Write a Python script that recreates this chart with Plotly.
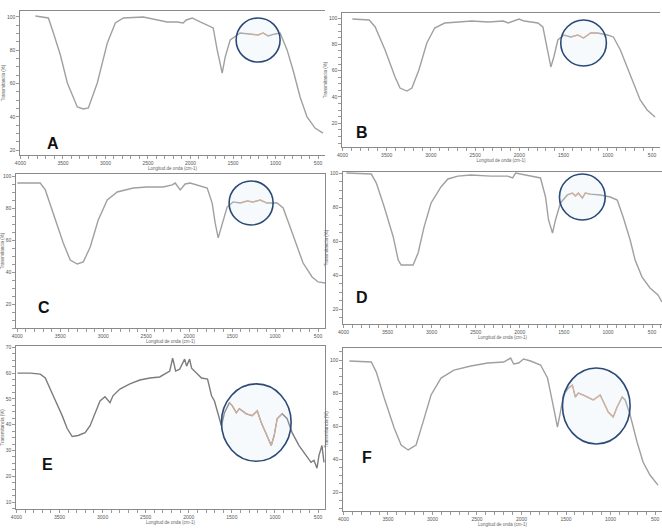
import plotly.graph_objects as go

W, H = 662, 529

# ---------------- data (wavenumber cm-1, transmittance %) ----------------
wn_A = [3824, 3671, 3612, 3530, 3448, 3331, 3260, 3201, 3096, 2978, 2884, 2790, 2555, 2274, 2156, 2086, 2050,
        1980, 1886, 1733, 1686, 1627, 1592, 1533, 1416, 1299, 1205, 1146, 1087, 1005, 946, 864, 794, 711, 629, 535, 441]
T_A = [100.6, 99.4, 90.4, 77.1, 60.3, 45.9, 44.7, 45.3, 60.3, 84.4, 96.4, 99.4, 100, 97, 97, 96.4, 98.2,
       99.4, 97, 93.4, 80.2, 66.3, 75.9, 86.2, 90.4, 89.8, 89.2, 90.4, 88.6, 89.8, 90.4, 80.2, 68.1, 51.9, 39.9, 33.2, 30.2]

wn_B = [3888, 3697, 3630, 3518, 3405, 3349, 3271, 3215, 3136, 3046, 2957, 2844, 2687, 2541, 2351, 2182, 2126, 2070,
        2003, 1947, 1790, 1734, 1700, 1644, 1610, 1565, 1498, 1419, 1341, 1274, 1195, 1116, 1004, 937, 858, 780, 713,
        634, 555, 466]
T_B = [99.2, 98.5, 93.2, 75.7, 55.2, 46.8, 44.5, 46.8, 60.5, 81, 92.4, 96.2, 97, 97.7, 97, 97.7, 96.2, 97.7,
       99.2, 97.7, 96.2, 93.2, 81, 62.8, 70.4, 83.3, 87.1, 85.6, 87.1, 84.8, 88.6, 88.6, 87.1, 85.6, 75.7, 62.8, 50.6,
       37.7, 30.1, 24.8]

wn_C = [4000, 3733, 3674, 3581, 3465, 3384, 3302, 3232, 3151, 3058, 2953, 2837, 2651, 2488, 2302, 2197, 2162, 2104,
        2046, 1988, 1907, 1790, 1732, 1697, 1662, 1616, 1558, 1488, 1407, 1325, 1255, 1174, 1093, 976, 906, 825, 744,
        674, 569, 499, 418]
T_C = [95.6, 95.6, 91.3, 76.9, 58.1, 47.5, 45, 46.3, 55.6, 72.5, 85, 90, 92.5, 93.1, 93.1, 94.4, 95.6, 91.3,
       95, 95.6, 94.4, 92.5, 83.1, 70.6, 61.3, 70.6, 80.6, 83.8, 83.1, 84.4, 83.8, 85, 83.1, 83.1, 80, 68.1, 55.6,
       45.6, 36.9, 33.8, 33.1]

wn_D = [3966, 3684, 3627, 3537, 3435, 3379, 3345, 3210, 3153, 3086, 3006, 2894, 2815, 2702, 2555, 2329, 2137, 2081,
        2047, 1990, 1911, 1765, 1708, 1674, 1629, 1595, 1539, 1460, 1403, 1369, 1336, 1290, 1257, 1200, 1087, 974, 895,
        828, 748, 692, 613, 523, 432, 387]
T_D = [100, 99.4, 94.1, 80, 62.4, 48.8, 45.9, 45.9, 53, 68.2, 82.4, 91.8, 96.5, 98.2, 98.8, 98.2, 98.2, 97.1,
       100, 99.4, 98.2, 97.1, 85.9, 72.4, 64.7, 72.4, 82.4, 87.1, 88.2, 86.5, 88.2, 85.3, 88.2, 87.6, 87.1, 85.9, 84.1,
       74.1, 60.6, 48.8, 38.8, 32.4, 28.3, 24.1]

wn_E = [3988, 3838, 3723, 3665, 3573, 3469, 3411, 3353, 3284, 3203, 3145, 3088, 3030, 2972, 2914, 2880, 2799, 2683,
        2568, 2510, 2452, 2337, 2279, 2221, 2187, 2152, 2106, 2048, 2025, 1990, 1967, 1910, 1852, 1782, 1736, 1702,
        1667, 1621, 1586, 1528, 1494, 1448, 1413, 1332, 1263, 1205, 1159, 1101, 1043, 1009, 974, 916, 858, 801, 720,
        639, 581, 547, 512, 489, 454, 431]
T_E = [60, 60, 59.6, 58.1, 51.2, 43.5, 38.5, 35.4, 35.8, 36.9, 39.6, 44.6, 49.2, 50.8, 48.5, 51.2, 53.8, 55.8,
       57.3, 57.7, 58.1, 58.5, 59.6, 60.8, 65.8, 60.8, 61.5, 65.4, 62.7, 65.4, 61.9, 60, 58.1, 57.7, 51.2, 49.2,
       44.6, 39.6, 44.6, 48.5, 47.3, 44.6, 46.2, 44.2, 43.5, 45.4, 40.8, 36.5, 31.9, 35.8, 42.3, 44.2, 42.3, 36.9, 31.9,
       28.1, 25.4, 26.2, 23.1, 28.1, 31.9, 25.4]

wn_F = [3933, 3687, 3631, 3542, 3430, 3352, 3273, 3184, 3106, 3016, 2904, 2759, 2569, 2379, 2200, 2122, 2088, 2032,
        1976, 1898, 1786, 1708, 1652, 1596, 1563, 1529, 1473, 1429, 1395, 1362, 1306, 1194, 1116, 1060, 1026, 970, 926,
        870, 836, 780, 702, 635, 557, 467]
T_F = [99.4, 98.8, 92.7, 77, 58.8, 48.5, 45.5, 48.5, 62.4, 78.8, 89.1, 93.9, 96.4, 98.2, 98.8, 101.2, 97.6, 98.2,
       100.6, 99.4, 97, 89.1, 74.5, 59.4, 68.5, 78.8, 83, 84.8, 77.6, 80, 78.8, 75.8, 78.8, 72.7, 68.5, 65.5, 71.5,
       77.6, 75.8, 66.7, 50.3, 38.2, 30.3, 24.2]

panel_names = ["A", "B", "C", "D", "E", "F"]
series_wn = [wn_A, wn_B, wn_C, wn_D, wn_E, wn_F]
series_T = [T_A, T_B, T_C, T_D, T_E, T_F]

x_label_vals = [4000, 3500, 3000, 2500, 2000, 1500, 1000, 500]
x_minor_step = 100
y_label_sets = [[20, 40, 60, 80, 100], [20, 40, 60, 80, 100], [20, 40, 60, 80, 100],
                [20, 40, 60, 80, 100], [10, 20, 30, 40, 50, 60, 70], [20, 40, 60, 80, 100]]
y_minor_steps = [5, 5, 5, 5, 2.5, 5]

# highlighted regions (wavenumber high, low, T high, T low)
highlights = [(1463, 946, 99.4, 72.9), (1532, 1016, 98.5, 63.5), (1535, 1023, 96.9, 69.4),
              (1550, 1031, 99.4, 72.4), (1621, 812, 55.8, 25.8), (1540, 780, 95.2, 49.1)]

x_title = "Longitud de onda (cm-1)"
y_title = "Transmitancia (%)"

# ---------------- layout geometry (pixels) ----------------
# left, right, top, bottom of each plot area
boxes = [(20, 325, 11, 155), (342, 660, 13, 147), (16, 325, 174, 328),
         (343, 662, 172, 324), (16, 325, 346, 509), (343, 662, 348, 511)]
x_ranges = [[4005, 418], [4005, 410], [4015, 419], [4005, 387], [4005, 419], [4005, 422]]
y_ranges = [[17, 103.6], [2, 103.8], [5, 101.25], [11.2, 100.6], [7.3, 70.5], [8.5, 107.3]]
letter_pos = [(45, 133), (362, 122), (36, 307), (362, 297), (40, 475), (367, 468)]
right_border = [False, False, True, False, True, False]


def px(v):
    return v / W


def py(v):
    return 1 - v / H


def tick_lists(lo, hi, step, labels):
    vals, texts = [], []
    n = int(round((hi - lo) / step))
    for s in range(n + 1):
        v = round(lo + s * step, 3)
        vals.append(v)
        match = [lab for lab in labels if abs(lab - v) < 1e-6]
        texts.append(str(int(match[0])) if match else "")
    return vals, texts


fig = go.Figure()
shapes = []
annotations = []

xt_vals, xt_text = tick_lists(400, 4000, x_minor_step, x_label_vals)

for i, name in enumerate(panel_names):
    k = "" if i == 0 else str(i + 1)
    xa, ya = "x" + k, "y" + k
    wn, T = series_wn[i], series_T[i]
    col = "#7c7c7c" if name == "E" else "#a0a0a0"
    fig.add_trace(go.Scatter(x=wn, y=T, mode="lines", line=dict(color=col, width=1.4),
                             xaxis=xa, yaxis=ya, showlegend=False, hoverinfo="skip"))
    hi, lo, th, tl = highlights[i]
    seg = [j for j, w in enumerate(wn) if lo + 60 <= w <= hi - 60]
    fig.add_trace(go.Scatter(x=[wn[j] for j in seg], y=[T[j] for j in seg], mode="lines",
                             line=dict(color="#d8a686", width=1.1),
                             xaxis=xa, yaxis=ya, showlegend=False, hoverinfo="skip"))
    shapes.append(dict(type="circle", xref=xa, yref=ya, x0=hi, x1=lo, y0=th, y1=tl,
                       line=dict(color="#2b4a78", width=1.6),
                       fillcolor="rgba(210,230,246,0.18)", layer="above"))
    l, r, t, b = boxes[i]
    yt_vals, yt_text = tick_lists(0, 110, y_minor_steps[i], y_label_sets[i])
    axis_common = dict(showline=True, linecolor="#8a8a8a", linewidth=1.3, showgrid=False, zeroline=False,
                       automargin=False, ticklabeloverflow="allow",
                       ticks="outside", ticklen=2.5, tickwidth=1, tickcolor="#9a9a9a",
                       tickfont=dict(size=5, color="#555", family="Liberation Sans"))
    fig.layout["xaxis" + k] = dict(
        domain=[px(l), px(r)], range=x_ranges[i], anchor=ya, mirror=True,
        tickmode="array", tickvals=xt_vals, ticktext=xt_text,
        title=dict(text=x_title, font=dict(size=4.5, color="#666", family="Liberation Sans"), standoff=1),
        **axis_common)
    fig.layout["yaxis" + k] = dict(
        domain=[py(b), py(t)], range=y_ranges[i], anchor=xa, mirror=right_border[i],
        tickmode="array", tickvals=yt_vals, ticktext=yt_text,
        title=dict(text=y_title, font=dict(size=4.5, color="#666", family="Liberation Sans"), standoff=1),
        **axis_common)
    lx, ly = letter_pos[i]
    annotations.append(dict(text="<b>" + name + "</b>", xref="paper", yref="paper", x=px(lx), y=py(ly),
                            showarrow=False, font=dict(size=16, color="#111", family="Liberation Sans")))

fig.update_layout(width=W, height=H, margin=dict(l=0, r=0, t=0, b=0),
                  paper_bgcolor="white", plot_bgcolor="white",
                  shapes=shapes, annotations=annotations)

fig.write_html("out.html", config={"displayModeBar": False},
               post_script="document.body.style.margin='0px';document.body.style.overflow='hidden';")
